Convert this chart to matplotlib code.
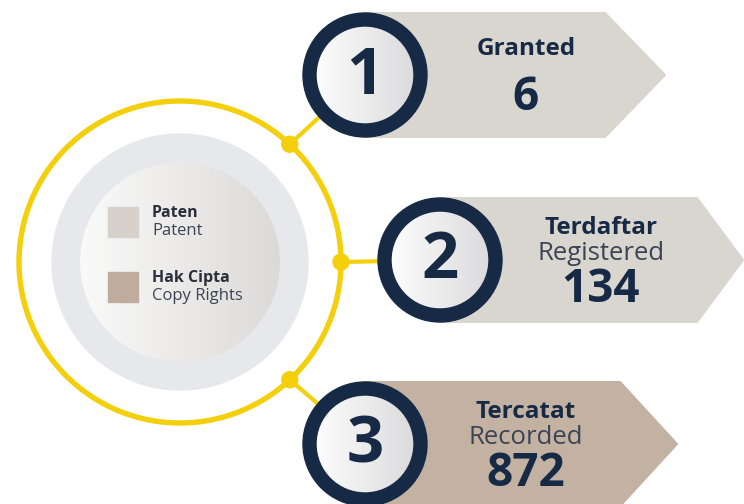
import numpy as np
import matplotlib.pyplot as plt
from matplotlib.patches import Circle, Wedge, Polygon, Rectangle
from matplotlib.colors import LinearSegmentedColormap

# Data
steps = ['1', '2', '3']
titles = ['Granted', 'Terdaftar', 'Tercatat']
subtitles = ['', 'Registered', 'Recorded']
counts = [6, 134, 872]
banner_colors = ['#d9d5cf', '#d9d5cf', '#c3b2a2']

legend_id = ['Paten', 'Hak Cipta']
legend_en = ['Patent', 'Copy Rights']
legend_colors = ['#d6d1ca', '#bfac9c']

plt.rcParams['font.family'] = ['Open Sans', 'DejaVu Sans']

NAVY = '#172a45'
SUB = '#3b4455'
YELLOW = '#f3cf0c'

fig = plt.figure(figsize=(7.44, 5.04), dpi=100)
ax = fig.add_axes([0, 0, 1, 1])
ax.set_xlim(0, 744)
ax.set_ylim(504, 0)
ax.axis('off')


def gradient_disk(cx, cy, r, c_left, c_right, z):
    # horizontal gradient clipped to a disk
    grad = np.tile(np.linspace(0, 1, 256), (2, 1))
    cmap = LinearSegmentedColormap.from_list('g', [c_left, c_right])
    im = ax.imshow(grad, cmap=cmap, extent=(cx - r, cx + r, cy + r, cy - r),
                   aspect='auto', zorder=z, interpolation='bilinear')
    im.set_clip_path(Circle((cx, cy), r, transform=ax.transData))


# big circle with legend
big_c = (180, 262)
ax.add_patch(Circle(big_c, 128, color='#e6e8ec', zorder=1))
gradient_disk(big_c[0], big_c[1], 100, '#fafafa', '#dcdad8', 2)
ax.add_patch(Wedge(big_c, 163, 0, 360, width=4, color=YELLOW, zorder=2))

# step circles and banners
centers = [(365, 75), (440, 260), (365, 444)]
right_edges = [605, 697, 620]
tips = [665, 743, 677]
dot_angles = [47, 0, -47]
R = 62

for i, (cx, cy) in enumerate(centers):
    poly = Polygon([(cx, cy - R), (right_edges[i], cy - R), (tips[i], cy),
                    (right_edges[i], cy + R), (cx, cy + R)],
                   closed=True, facecolor=banner_colors[i],
                   edgecolor=banner_colors[i], lw=1.5, joinstyle='round', zorder=1)
    ax.add_patch(poly)

    a = np.radians(dot_angles[i])
    dx = big_c[0] + 161 * np.cos(a)
    dy = big_c[1] - 161 * np.sin(a)
    ax.plot([dx, cx], [dy, cy], color=YELLOW, lw=3, zorder=2,
            solid_capstyle='butt')
    ax.add_patch(Circle((dx, dy), 8, color=YELLOW, zorder=4))

    gradient_disk(cx, cy, R - 6, '#ffffff', '#d9d9db', 3)
    ax.add_patch(Wedge((cx, cy), R, 0, 360, width=13, color=NAVY, zorder=4))
    ax.text(cx, cy + 2, steps[i], ha='center', va='center', fontsize=47,
            fontweight='bold', color=NAVY, zorder=5)

    tx = cx + 161
    if subtitles[i]:
        ax.text(tx, cy - 32, titles[i], ha='center', va='center', fontsize=17.5,
                fontweight='bold', color=NAVY, zorder=5)
        ax.text(tx, cy - 7, subtitles[i], ha='center', va='center', fontsize=18.5,
                color=SUB, zorder=5)
        ax.text(tx, cy + 29, str(counts[i]), ha='center', va='center',
                fontsize=33, fontweight='bold', color=NAVY, zorder=5)
    else:
        ax.text(tx, cy - 26, titles[i], ha='center', va='center', fontsize=17.5,
                fontweight='bold', color=NAVY, zorder=5)
        ax.text(tx, cy + 23, str(counts[i]), ha='center', va='center',
                fontsize=33, fontweight='bold', color=NAVY, zorder=5)

# legend inside circle
for j in range(len(legend_id)):
    y0 = 207 + j * 65
    ax.add_patch(Rectangle((108, y0), 30, 30, color=legend_colors[j], zorder=5))
    ax.text(152, y0 + 6, legend_id[j], ha='left', va='center', fontsize=11.5,
            fontweight='bold', color='#2a2f3a', zorder=5)
    ax.text(152, y0 + 24, legend_en[j], ha='left', va='center', fontsize=12,
            color=SUB, zorder=5)

fig.savefig('out.png', dpi=100)
